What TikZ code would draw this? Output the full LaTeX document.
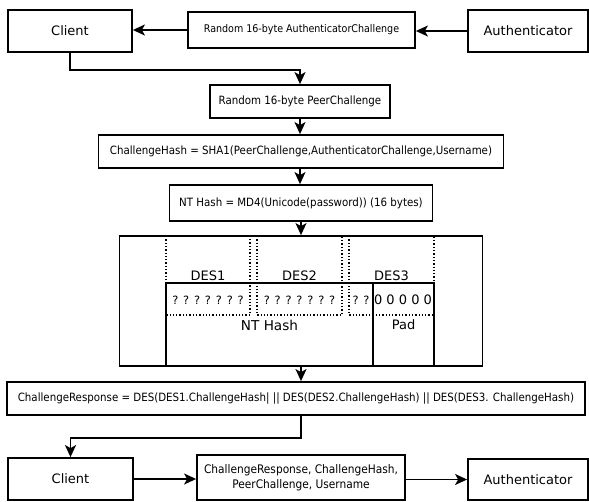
\documentclass[tikz,border=0pt]{standalone}
\usepackage{fontspec}
\setmainfont{DejaVu Sans}
\newfontfamily\condf{DejaVu Sans Condensed}
\usetikzlibrary{arrows.meta}
\tikzset{
  box/.style={draw=black, line width=1.8pt, fill=white, inner sep=0pt, align=center, font=\fontsize{13}{15}\selectfont},
  sbox/.style={box, font=\condf\fontsize{11.4}{14}\selectfont},
  arr/.style={line width=1.5pt, -{Stealth[length=12pt,width=11pt,inset=3pt]}},
  dotbox/.style={draw=black, dotted, line width=1.3pt},
  solid2/.style={draw=black, line width=1.5pt},
  lbl/.style={inner sep=0pt, font=\fontsize{13}{15}\selectfont},
}
\begin{document}
\begin{tikzpicture}[x=1pt, y=-1pt]
\useasboundingbox (0,0) rectangle (589,501);
% top row
\node[box, minimum width=124pt, minimum height=42pt] (c1) at (70,31) {Client};
\node[sbox, minimum width=227pt, minimum height=36pt, font=\condf\fontsize{10.6}{12}\selectfont] (ac) at (301.5,30) {Random 16-byte AuthenticatorChallenge};
\node[box, minimum width=120pt, minimum height=42pt] (a1) at (528,31) {Authenticator};
\node[sbox, minimum width=180pt, minimum height=33pt] (pc) at (300,101.5) {Random 16-byte PeerChallenge};
\node[sbox, minimum width=405pt, minimum height=33pt] (ch) at (301,151.5) {ChallengeHash = SHA1(PeerChallenge,AuthenticatorChallenge,Username)};
\node[sbox, minimum width=263pt, minimum height=36pt] (nt) at (301,203) {NT Hash = MD4(Unicode(password)) (16 bytes)};
\node[box, minimum width=363pt, minimum height=130pt] (big) at (301,301) {};
\node[sbox, minimum width=578pt, minimum height=33pt] (cr) at (296,398.5) {ChallengeResponse = DES(DES1.ChallengeHash| || DES(DES2.ChallengeHash) || DES(DES3. ChallengeHash)};
\node[box, minimum width=125pt, minimum height=42pt] (c2) at (70.5,479) {Client};
\node[sbox, minimum width=208pt, minimum height=45pt, font=\condf\fontsize{11.8}{15}\selectfont] (mid) at (301,477.5) {ChallengeResponse, ChallengeHash,\\PeerChallenge, Username};
\node[box, minimum width=120pt, minimum height=41pt] (a2) at (528,479.5) {Authenticator};
% inner structure of big box
\draw[dotbox] (166,236) rectangle (250,315);
\draw[dotbox] (257,236) rectangle (342,315);
\draw[dotbox] (349,236) rectangle (434,315);
\draw[solid2] (166,283) rectangle (434,366);
\draw[solid2] (373,283) -- (373,366);
\node[lbl] (d1) at (208,276) {DES1};
\node[lbl] (d2) at (299.5,276) {DES2};
\node[lbl] (d3) at (391.5,276) {DES3};
\node[lbl, font=\fontsize{11.4}{14}\selectfont] (q1) at (208,300) {? ? ? ? ? ? ?};
\node[lbl, font=\fontsize{11.4}{14}\selectfont] (q2) at (299.5,300) {? ? ? ? ? ? ?};
\node[lbl, font=\fontsize{11.4}{14}\selectfont] (q3) at (361,300) {? ?};
\node[lbl] (z3) at (403,300) {0 0 0 0 0};
\node[lbl, font=\fontsize{13.6}{15}\selectfont] (nth) at (269.5,325) {NT Hash};
\node[lbl] (pad) at (403.5,325) {Pad};
% connectors
\coordinate (k1) at (70,70);
\coordinate (k2) at (301,438);
\draw[arr] (a1.west) -- (a1.west -| ac.east);
\draw[arr] (ac.west) -- (ac.west -| c1.east);
\draw[arr] (c1.south) -- (k1) -| (pc.north);
\draw[arr] (pc.south) -- (pc.south |- ch.north);
\draw[arr] (ch.south -| pc.south) -- (pc.south |- nt.north);
\draw[arr] (nt.south) -- (big.north);
\draw[arr] (big.south) -- (big.south |- cr.north);
\draw[arr] (big.south |- cr.south) -- (k2) -| (c2.north);
\draw[arr] (c2.east) -- (c2.east -| mid.west);
\draw[arr] (mid.east |- a2.west) -- (a2.west);
\end{tikzpicture}
\end{document}
